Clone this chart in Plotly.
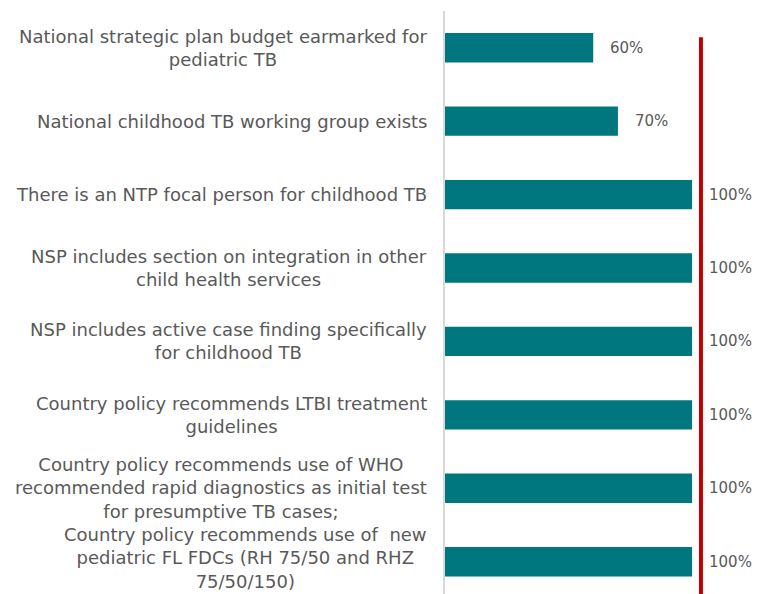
import plotly.graph_objects as go

categories = [
    "National strategic plan budget earmarked for<br>pediatric TB",
    "National childhood TB working group exists",
    "There is an NTP focal person for childhood TB",
    "NSP includes section on integration in other<br>child health services",
    "NSP includes active case finding specifically<br>for childhood TB",
    "Country policy recommends LTBI treatment<br>guidelines",
    "Country policy recommends use of WHO<br>recommended rapid diagnostics as initial test<br>for presumptive TB cases;",
    "Country policy recommends use of  new<br>pediatric FL FDCs (RH 75/50 and RHZ<br>75/50/150)",
]
values = [60, 70, 100, 100, 100, 100, 100, 100]
value_labels = ["60%", "70%", "100%", "100%", "100%", "100%", "100%", "100%"]

BAR_COLOR = "#00777E"
TEXT_COLOR = "#595959"
FONT = "DejaVu Sans"

idx = list(range(len(categories)))

fig = go.Figure()
fig.add_trace(go.Bar(
    x=values, y=idx, orientation="h",
    marker=dict(color=BAR_COLOR, line=dict(width=0)),
    width=0.4, hoverinfo="skip",
))

annotations = []
for i, (c, v, t) in enumerate(zip(categories, values, value_labels)):
    annotations.append(dict(
        x=0, y=i, xref="x", yref="y", text=c, showarrow=False,
        xanchor="right", yanchor="middle", align="center", xshift=-16,
        yshift=4 if i == len(categories) - 1 else 0,
        font=dict(family=FONT, size=18, color=TEXT_COLOR),
    ))
    annotations.append(dict(
        x=v, y=i, xref="x", yref="y", text=t, showarrow=False,
        xanchor="left", yanchor="middle", xshift=15,
        font=dict(family=FONT, size=15, color=TEXT_COLOR),
    ))

fig.update_layout(
    width=752, height=586,
    margin=dict(l=437, r=0, t=3, b=0),
    paper_bgcolor="white", plot_bgcolor="white",
    showlegend=False,
    xaxis=dict(range=[0, 127.5], visible=False, fixedrange=True),
    yaxis=dict(range=[7.44, -0.5], showticklabels=False, showgrid=False,
               zeroline=False, showline=True, linecolor="#D9D9D9", linewidth=2,
               ticks=""),
    annotations=annotations,
    shapes=[dict(type="line", xref="x", yref="paper", x0=103.6, x1=103.6,
                 y0=0, y1=0.955, line=dict(color="#C00000", width=4))],
)

fig.write_html("out.html")
